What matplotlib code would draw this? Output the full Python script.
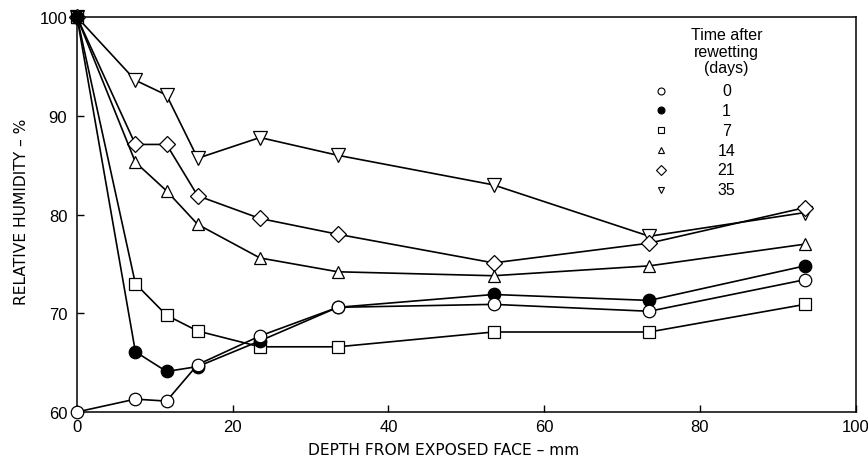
import matplotlib
matplotlib.use('Agg')
import matplotlib.pyplot as plt

plt.rcParams['font.family'] = ['Liberation Sans', 'DejaVu Sans']

# depth of each reading (mm) and relative humidity (%) per time after rewetting
depth = [0, 7.5, 11.5, 15.5, 23.5, 33.5, 53.5, 73.5, 93.5]
rh_day0 = [60.0, 61.3, 61.1, 64.8, 67.7, 70.6, 70.9, 70.2, 73.4]
rh_day1 = [100.0, 66.1, 64.1, 64.6, 67.2, 70.6, 71.9, 71.3, 74.8]
rh_day7 = [100.0, 73.0, 69.8, 68.2, 66.6, 66.6, 68.1, 68.1, 70.9]
rh_day14 = [100.0, 85.3, 82.4, 79.0, 75.6, 74.2, 73.8, 74.8, 77.0]
rh_day21 = [100.0, 87.1, 87.1, 81.9, 79.6, 78.0, 75.1, 77.1, 80.7]
rh_day35 = [100.0, 93.6, 92.1, 85.7, 87.8, 86.0, 83.0, 77.8, 80.2]

days = ['0', '1', '7', '14', '21', '35']
series = [rh_day0, rh_day1, rh_day7, rh_day14, rh_day21, rh_day35]
markers = ['o', 'o', 's', '^', 'D', 'v']
faces = ['white', 'black', 'white', 'white', 'white', 'white']
sizes = [9, 9, 8.5, 9, 8.5, 9.5]
layers = [6, 5, 4, 3, 2, 1]  # open circles sit on top of the filled ones

fig = plt.figure(figsize=(8.68, 4.64), dpi=100)
ax = fig.add_axes([0.0887, 0.110, 0.897, 0.851])

for vals, m, fc, ms, z in zip(series, markers, faces, sizes, layers):
    ax.plot(depth, vals, color='black', lw=1.2, marker=m, ms=ms,
            mfc=fc, mec='black', mew=0.9, clip_on=False, zorder=2 + z)

ax.set_xlim(0, 100)
ax.set_ylim(60, 100)
ax.set_xticks([0, 20, 40, 60, 80, 100])
ax.set_yticks([60, 70, 80, 90, 100])
ax.tick_params(direction='in', length=5, width=1, labelsize=12)
ax.tick_params(axis='x', pad=5)
ax.tick_params(axis='y', pad=7)
for s in ax.spines.values():
    s.set_linewidth(1.1)

ax.set_xlabel('DEPTH FROM EXPOSED FACE – mm', fontsize=11.2,
              family='DejaVu Sans')
ax.set_ylabel('RELATIVE HUMIDITY – %', fontsize=11.2,
              family='DejaVu Sans')
ax.xaxis.set_label_coords(0.471, -0.077)
ax.yaxis.set_label_coords(-0.062, 0.51)

# key: title lines, then marker and day count per row
tx = 0.834
ax.text(tx, 0.914, 'Time after\nrewetting\n(days)', transform=ax.transAxes,
        ha='center', va='center', fontsize=11.5, linespacing=1.15)
for i, (d, m, fc) in enumerate(zip(days, markers, faces)):
    y = 0.814 - i * 0.0502
    ax.plot([0.75], [y], transform=ax.transAxes, marker=m, ms=5,
            mfc=fc, mec='black', mew=0.8, ls='none')
    ax.text(tx, y, d, transform=ax.transAxes, ha='center', va='center',
            fontsize=11.5)

plt.savefig('out.png', dpi=100)
plt.close()
